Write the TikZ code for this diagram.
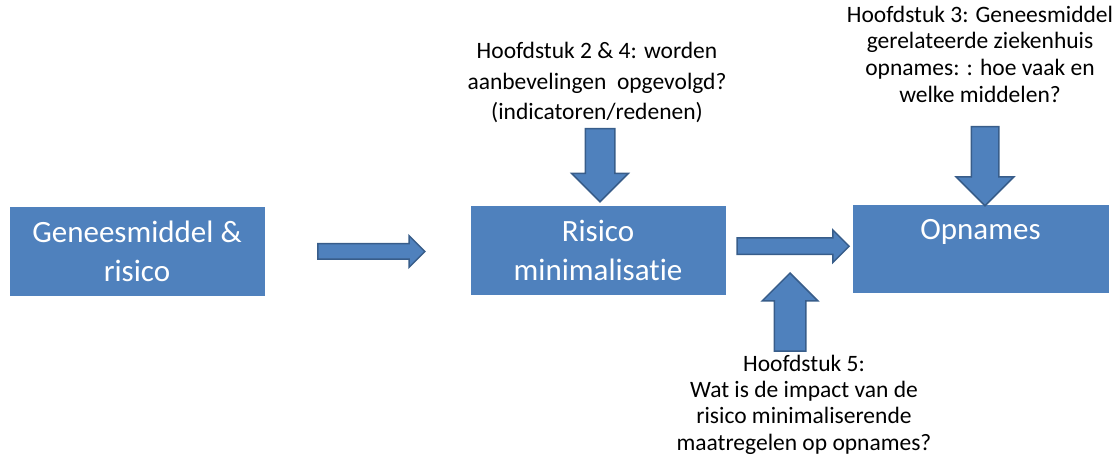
\documentclass[tikz,border=0pt]{standalone}
\usepackage{fontspec}
\setmainfont{Carlito}[Ligatures=NoCommon]
\usetikzlibrary{calc,shapes.arrows,positioning}
\definecolor{boxblue}{HTML}{4F81BD}
\definecolor{edgeblue}{HTML}{385D8A}
\tikzset{
  stepbox/.style={draw=boxblue,fill=boxblue,rectangle,text=white,align=center,inner sep=0pt,minimum width=254pt,minimum height=88pt,font=\fontsize{31}{39}\selectfont},
  note/.style={align=center,inner sep=0pt,font=\fontsize{23.5}{#1}\selectfont},
  blockarrow/.style={single arrow,draw=edgeblue,fill=boxblue,line width=1.5pt,single arrow head extend=8pt,inner sep=7pt}
}

\begin{document}
\begin{tikzpicture}[x=1pt,y=-1pt]
  \useasboundingbox (0,0) rectangle (1117,462);

  %boxes
  \node[stepbox] (gm) at (137,251) {Geneesmiddel \&\\risico};
  \node[stepbox] (rm) at (598,250) {Risico\\minimalisatie};
  \node[stepbox,minimum width=255pt,minimum height=87pt] (op) at (980.5,248.5) {Opnames\\~};

  %chapters
  \node[note=30.5] (h24) at (597,82.5) {Hoofdstuk 2 \& 4: worden\\aanbevelingen\ \ opgevolgd?\\(indicatoren/redenen)};
  \node[note=26.7] (h3) at (980,54) {Hoofdstuk 3: Geneesmiddel\\gerelateerde ziekenhuis\\opnames: : hoe vaak en\\welke middelen?};
  \node[note=26.3] (h5) at (804,404.5) {Hoofdstuk 5:\\Wat is de impact van de\\risico minimaliserende\\maatregelen op opnames?};

  %arrows
  \node[blockarrow,minimum height=107pt] (gmrm) at ($(gm.east)!0.5!(rm.west)+(0,1)$) {};
  \node[blockarrow,minimum height=112pt,inner sep=7.5pt] (rmop) at ($(rm.east)!0.5!(op.west)+(0,-3)$) {};
  \node[blockarrow,rotate=-90,anchor=tip,minimum height=73pt,inner sep=14pt,single arrow head extend=13.5pt] (in24) at ($(rm.north)+(2,-3)$) {};
  \node[blockarrow,rotate=-90,anchor=tip,minimum height=79pt,inner sep=13pt,single arrow head extend=15pt] (in3) at ($(op.north)+(4.5,2)$) {};
  \node[blockarrow,rotate=90,anchor=tip,minimum height=78pt,inner sep=15pt,single arrow head extend=12pt] (in5) at (790,272) {};
\end{tikzpicture}
\end{document}
